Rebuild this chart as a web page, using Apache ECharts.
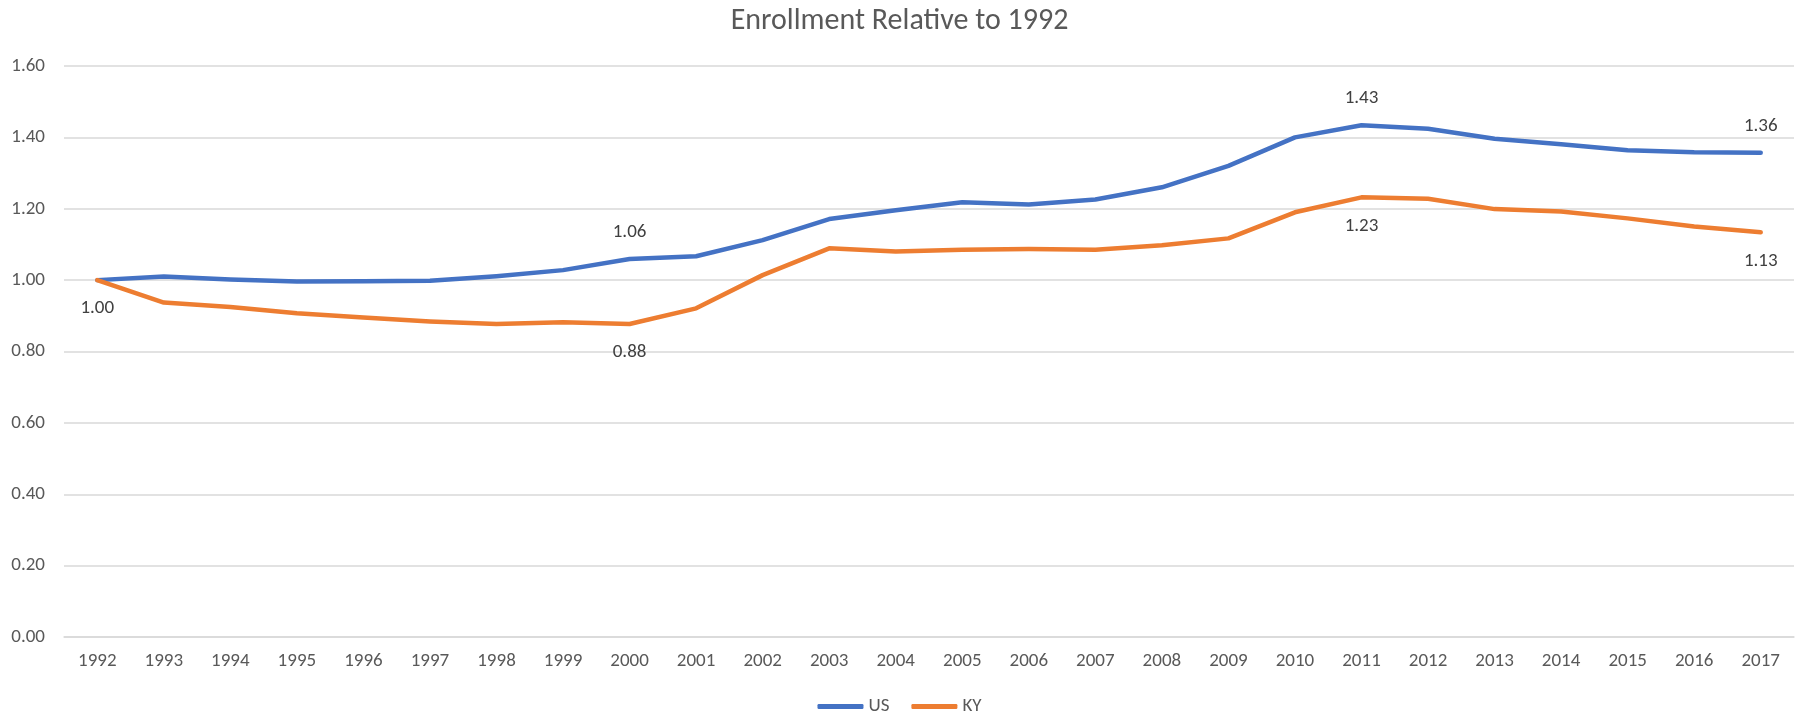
<!DOCTYPE html>
<html>
<head>
<meta charset="utf-8">
<title>Enrollment Relative to 1992</title>
<script src="https://cdn.jsdelivr.net/npm/echarts@6/dist/echarts.min.js"></script>
<style>
  html, body { margin: 0; padding: 0; background: #ffffff; }
  #chart { width: 1799px; height: 718px; }
</style>
</head>
<body>
<div id="chart"></div>
<script>
// Enrollment index (1992 = 1.00) for the US and Kentucky
const years = ['1992','1993','1994','1995','1996','1997','1998','1999','2000','2001','2002','2003','2004',
               '2005','2006','2007','2008','2009','2010','2011','2012','2013','2014','2015','2016','2017'];
const usValues = [1.000, 1.010, 1.002, 0.996, 0.997, 0.998, 1.011, 1.028, 1.059, 1.067, 1.112, 1.171, 1.196,
                  1.218, 1.212, 1.226, 1.260, 1.320, 1.400, 1.434, 1.424, 1.396, 1.381, 1.364, 1.358, 1.357];
const kyValues = [1.000, 0.937, 0.925, 0.907, 0.895, 0.884, 0.877, 0.882, 0.877, 0.921, 1.014, 1.089, 1.080,
                  1.085, 1.087, 1.085, 1.098, 1.117, 1.190, 1.232, 1.228, 1.199, 1.192, 1.173, 1.150, 1.134];
// Years whose points carry a value label
const usLabelYears = ['2000', '2011', '2017'];
const kyLabelYears = ['1992', '2000', '2011', '2017'];
const yTicks = { min: 0, max: 1.6, step: 0.2 };

const FONT = "Carlito, 'Liberation Sans Narrow', 'Open Sans', sans-serif";
const AXIS_TEXT = '#595959';
const LABEL_TEXT = '#404040';
const GRID_LINE = '#d9d9d9';

function withLabels(values, labelYears, position, distance) {
  return values.map((v, i) => {
    const item = { value: v };
    if (labelYears.includes(years[i])) {
      item.label = {
        show: true,
        position: position,
        distance: distance,
        formatter: p => Number(p.value).toFixed(2),
        color: LABEL_TEXT,
        fontFamily: FONT,
        fontSize: 19
      };
    }
    return item;
  });
}

function lineSeries(name, color, data) {
  return {
    name: name,
    type: 'line',
    data: data,
    // invisible point markers so that value labels still get placed
    showSymbol: true,
    symbol: 'circle',
    symbolSize: 0,
    lineStyle: { color: color, width: 4.5, cap: 'round', join: 'round' },
    itemStyle: { color: color },
    emphasis: { disabled: true }
  };
}

const chart = echarts.init(document.getElementById('chart'), null, { renderer: 'canvas' });

chart.setOption({
  animation: false,
  backgroundColor: '#ffffff',
  title: {
    text: 'Enrollment Relative to 1992',
    left: 'center',
    top: 1,
    textStyle: { color: AXIS_TEXT, fontFamily: FONT, fontSize: 30, fontWeight: 'normal' }
  },
  legend: {
    top: 692,
    left: 'center',
    itemWidth: 46,
    itemHeight: 5,
    itemGap: 22,
    icon: 'roundRect',
    textStyle: { color: AXIS_TEXT, fontFamily: FONT, fontSize: 19 },
    data: ['US', 'KY']
  },
  grid: { left: 64, right: 5, top: 66, bottom: 81, containLabel: false },
  xAxis: {
    type: 'category',
    data: years,
    boundaryGap: true,
    axisLine: { show: true, lineStyle: { color: GRID_LINE, width: 1.5 } },
    axisTick: { show: false },
    axisLabel: { color: AXIS_TEXT, fontFamily: FONT, fontSize: 19, margin: 15, interval: 0 }
  },
  yAxis: {
    type: 'value',
    min: yTicks.min,
    max: yTicks.max,
    interval: yTicks.step,
    axisLine: { show: false },
    axisTick: { show: false },
    splitLine: { lineStyle: { color: GRID_LINE, width: 1.5 } },
    axisLabel: {
      color: AXIS_TEXT, fontFamily: FONT, fontSize: 19, margin: 19,
      formatter: v => v.toFixed(2)
    }
  },
  series: [
    lineSeries('US', '#4472C4', withLabels(usValues, usLabelYears, 'top', 17)),
    lineSeries('KY', '#ED7D31', withLabels(kyValues, kyLabelYears, 'bottom', 19))
  ]
});
</script>
</body>
</html>
